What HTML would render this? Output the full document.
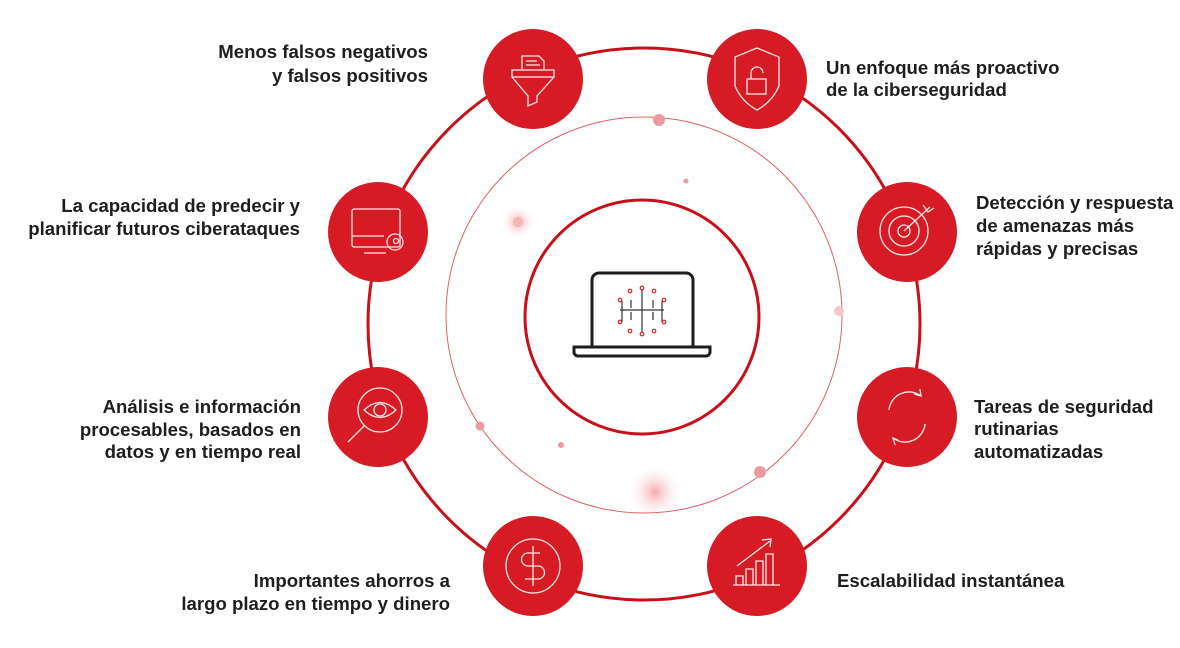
<!DOCTYPE html>
<html><head><meta charset="utf-8"><style>
html,body{margin:0;padding:0;background:#fff;}
svg{display:block}
text{font-family:"Liberation Sans",sans-serif;font-weight:bold;font-size:18.6px;fill:#1e1e1e;}
</style></head><body>
<svg width="1180" height="648" viewBox="0 0 1180 648" xmlns="http://www.w3.org/2000/svg">
<defs>
<radialGradient id="g"><stop offset="0" stop-color="#f3a0a3" stop-opacity=".9"/><stop offset="1" stop-color="#fff" stop-opacity="0"/></radialGradient>
</defs>
<circle cx="518" cy="222" r="18" fill="url(#g)"/>
<circle cx="655" cy="492" r="28" fill="url(#g)"/>
<circle cx="644" cy="324" r="276" fill="none" stroke="#c8101a" stroke-width="3"/>
<circle cx="644" cy="315" r="198" fill="none" stroke="#e06066" stroke-width="1"/>
<circle cx="642" cy="317" r="117" fill="none" stroke="#c8101a" stroke-width="3"/>
<circle cx="659" cy="120" r="6" fill="#eb9aa0"/>
<circle cx="686" cy="181" r="2.5" fill="#eb9aa0"/>
<circle cx="518" cy="222" r="5" fill="#f5b6b9"/>
<circle cx="839" cy="311" r="5" fill="#f5c6c8"/>
<circle cx="480" cy="426" r="4.5" fill="#eb9aa0"/>
<circle cx="561" cy="445" r="3" fill="#eb9aa0"/>
<circle cx="760" cy="472" r="6" fill="#eb9aa0"/>
<!-- laptop -->
<g fill="none" stroke="#1e1e1e" stroke-width="3">
<path d="M592 346 V280 a7 7 0 0 1 7 -7 H686 a7 7 0 0 1 7 7 V346"/>
<path d="M574 347 H710 V352 a4 4 0 0 1 -4 4 H578 a4 4 0 0 1 -4 -4 Z"/>
</g>
<g fill="none" stroke="#333" stroke-width="1.2">
<path d="M642 290 V335 M630 310 H654 M620 310 H630 M654 310 H664 M631 300 V308 M653 300 V308 M631 312 V320 M653 312 V320 M622 301 V310 M662 301 V310 M622 310 V322 M662 310 V322"/>
</g>
<g fill="#fff" stroke="#e0202a" stroke-width="1.2">
<circle cx="642" cy="288" r="1.8"/><circle cx="630" cy="291" r="1.8"/><circle cx="654" cy="291" r="1.8"/>
<circle cx="620" cy="300" r="1.8"/><circle cx="664" cy="300" r="1.8"/><circle cx="620" cy="322" r="1.8"/><circle cx="664" cy="322" r="1.8"/>
<circle cx="630" cy="331" r="1.8"/><circle cx="654" cy="331" r="1.8"/><circle cx="642" cy="334" r="1.8"/>
</g>
<!-- red circles -->
<g fill="#d71b24">
<circle cx="533" cy="79" r="50"/><circle cx="757" cy="79" r="50"/>
<circle cx="378" cy="232" r="50"/><circle cx="907" cy="232" r="50"/>
<circle cx="378" cy="417" r="50"/><circle cx="907" cy="417" r="50"/>
<circle cx="533" cy="566" r="50"/><circle cx="757" cy="566" r="50"/>
</g>
<g fill="none" stroke="#fff" stroke-width="1.3" opacity=".9">
<path d="M522 69 V56 H539 L544 61 V69 M526 61 H537 M526 65 H540"/>
<rect x="512" y="70" width="42" height="7"/>
<path d="M512 77 L528 96 V106 L537 102 V96 L554 77"/>
<path d="M757 48 L779 57 V86 Q772 102 757 110 Q742 102 735 86 V57 Z"/>
<rect x="747" y="79" width="19" height="15"/><path d="M751 79 V73 a6 6 0 0 1 12 0"/>
<rect x="352" y="209" width="48" height="38" rx="2"/><path d="M352 236 H384 M364 253 H386"/>
<circle cx="395" cy="242" r="8"/><circle cx="396" cy="241" r="2.5"/>
<circle cx="904" cy="231" r="24"/><circle cx="904" cy="231" r="15"/><circle cx="904" cy="231" r="6"/>
<path d="M904 231 L930 207 M923 205 L928 212 L934 208"/>
<circle cx="380" cy="410" r="22"/><path d="M364 410 Q380 395 396 410 Q380 425 364 410 Z"/><circle cx="380" cy="410" r="6"/><path d="M364 426 L348 442"/>
<path d="M889 410 a20 20 0 0 1 32 -14 M925 424 a20 20 0 0 1 -32 14 M914 394 L921 396 L920 389 M898 440 L893 438 L895 445"/>
<circle cx="533" cy="566" r="27"/><path d="M540 553 H528 a6 6 0 0 0 0 13 H538 a6 6 0 0 1 0 13 H525 M533 546 V586"/>
<path d="M733 585 H780 M736 585 V576 H743 V585 M746 585 V569 H753 V585 M756 585 V561 H763 V585 M766 585 V554 H773 V585 M737 566 L770 541 M762 540 L771 539 L770 547"/>
</g>
<!-- labels -->
<g text-anchor="end">
<text x="428" y="58">Menos falsos negativos</text><text x="428" y="82">y falsos positivos</text>
<text x="300" y="212">La capacidad de predecir y</text><text x="300" y="235">planificar futuros ciberataques</text>
<text x="301" y="413">Análisis e información</text><text x="301" y="436">procesables, basados en</text><text x="301" y="458">datos y en tiempo real</text>
<text x="450" y="587">Importantes ahorros a</text><text x="450" y="610">largo plazo en tiempo y dinero</text>
</g>
<text x="826" y="74">Un enfoque más proactivo</text><text x="826" y="96">de la ciberseguridad</text>
<text x="976" y="209">Detección y respuesta</text><text x="976" y="232">de amenazas más</text><text x="976" y="255">rápidas y precisas</text>
<text x="974" y="413">Tareas de seguridad</text><text x="974" y="435">rutinarias</text><text x="974" y="458">automatizadas</text>
<text x="837" y="587">Escalabilidad instantánea</text>
</svg>
</body></html>
